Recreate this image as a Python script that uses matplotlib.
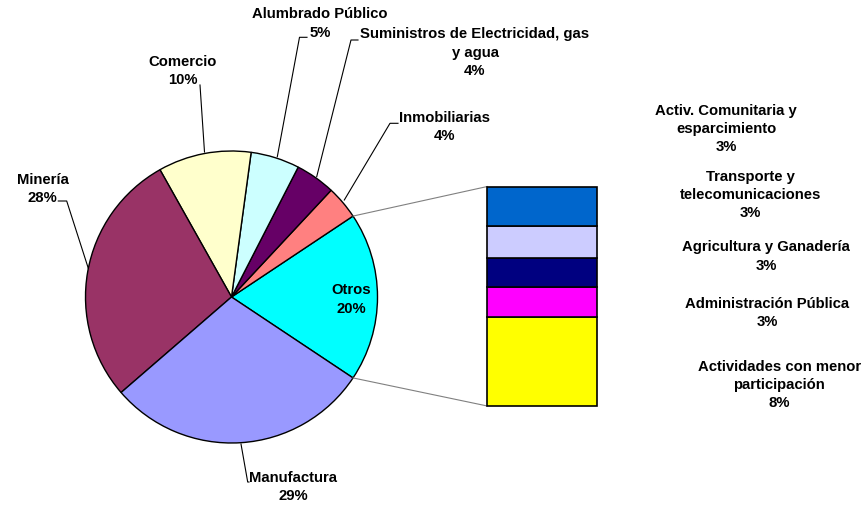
import matplotlib
matplotlib.use('Agg')
import matplotlib.pyplot as plt
import numpy as np

plt.rcParams['font.family'] = ['Liberation Sans', 'DejaVu Sans']
plt.rcParams['font.weight'] = 'bold'

# pie slices (counter-clockwise, starting with the exploded "Otros")
pie_names = ['Otros', 'Inmobiliarias', 'Suministros de Electricidad, gas\ny agua',
             'Alumbrado Público', 'Comercio', 'Minería', 'Manufactura']
pie_values = [18.7, 3.7, 4.4, 5.4, 10.3, 28.2, 29.3]
pie_labels = ['20%', '4%', '4%', '5%', '10%', '28%', '29%']
pie_colors = ['#00FFFF', '#FF8080', '#660066', '#CCFFFF', '#FFFFCC', '#993366', '#9999FF']

# breakdown of "Otros" (top to bottom in the bar)
sub_names = ['Activ. Comunitaria y\nesparcimiento', 'Transporte y\ntelecomunicaciones',
             'Agricultura y Ganadería', 'Administración Pública',
             'Actividades con menor\nparticipación']
sub_values = [3.4, 2.7, 2.5, 2.5, 7.6]
sub_labels = ['3%', '3%', '3%', '3%', '8%']
sub_colors = ['#0066CC', '#CCCCFF', '#000080', '#FF00FF', '#FFFF00']

W, H = 866, 507
fig = plt.figure(figsize=(W / 100, H / 100), dpi=100)
ax = fig.add_axes([0, 0, 1, 1])
ax.set_xlim(0, W)
ax.set_ylim(0, H)
ax.set_aspect('equal')
ax.axis('off')

def Y(y):
    # image row -> axis y
    return H - y

cx, cy, r = 231.5, Y(297), 146
half = pie_values[0] / sum(pie_values) * 360 / 2
ax.pie(pie_values, colors=pie_colors, center=(cx, cy), radius=r,
       startangle=-half, counterclock=True,
       wedgeprops=dict(edgecolor='black', linewidth=1))
ax.set_xlim(0, W)
ax.set_ylim(0, H)

# stacked bar for "Otros"
bar_x, bar_w = 542.3, 110
bar_bottom, bar_h = Y(406), 219.5
scale = bar_h / sum(sub_values)
bottom = bar_bottom
for v, c in reversed(list(zip(sub_values, sub_colors))):
    ax.bar(bar_x, v * scale, bottom=bottom, width=bar_w, color=c,
           edgecolor='black', linewidth=1.2, zorder=3)
    bottom += v * scale

# connector lines pie -> bar
for sgn, yb in [(1, bar_bottom + bar_h), (-1, bar_bottom)]:
    a = np.radians(sgn * half)
    ax.plot([cx + r * np.cos(a), bar_x - bar_w / 2], [cy + r * np.sin(a), yb],
            color='#808080', lw=0.8, zorder=2)

fs = 10.7
ls = 1.38

# pie labels: text centre and leader line points (image coords)
pie_text_pos = [(351, 299.5), (445, 127), (475, 52.5), (320, 23.5),
                (183, 71), (42.5, 189), (293, 487)]
leaders = [None,
           [(398, 123.3), (390, 123.3), (344.3, 200)],
           [(358, 40), (351, 40), (316.7, 176.7)],
           [(307, 37.3), (299.5, 37.3), (277.3, 156.7)],
           [(200, 85), (204.5, 152)],
           [(58.3, 201), (66.7, 201), (88.3, 268.3)],
           [(249, 482), (247.7, 482), (241, 444)]]
for name, lab, (tx, ty), ld in zip(pie_names, pie_labels, pie_text_pos, leaders):
    ax.text(tx, Y(ty), name + '\n' + lab, ha='center', va='center',
            multialignment='center', fontsize=fs, fontweight='bold',
            linespacing=ls, zorder=5)
    if ld:
        xs, ys = zip(*ld)
        ax.plot(xs, [Y(v) for v in ys], color='black', lw=0.8, zorder=4)

# labels for the bar segments
sub_text_pos = [(726.3, 129.3), (750.3, 194.8), (766, 256.5), (767, 313.4), (779.3, 385)]
for name, lab, (tx, ty) in zip(sub_names, sub_labels, sub_text_pos):
    ax.text(tx, Y(ty), name + '\n' + lab, ha='center', va='center',
            multialignment='center', fontsize=fs, fontweight='bold',
            linespacing=ls)

fig.savefig('out.png', dpi=100)
